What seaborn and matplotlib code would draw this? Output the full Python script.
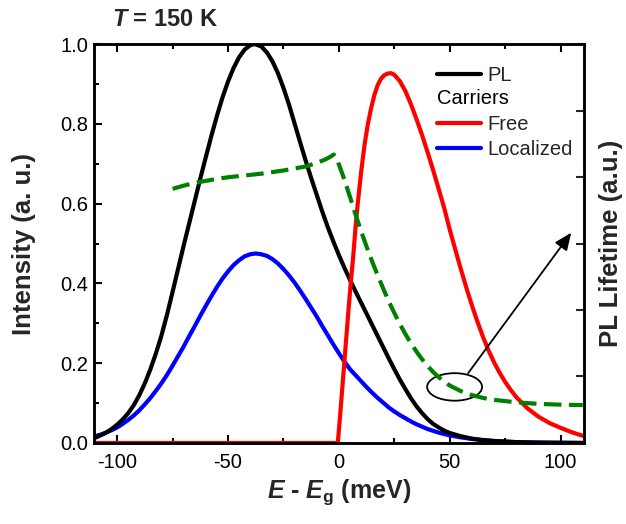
import numpy as np
import pandas as pd
import matplotlib
matplotlib.use("Agg")
import matplotlib.pyplot as plt
import seaborn as sns
from matplotlib.patches import Ellipse
from matplotlib.legend_handler import HandlerBase
from matplotlib.lines import Line2D
from matplotlib.text import Text

# ---------------- data ----------------
pl_x = [-110, -107.5, -105, -102.5, -100, -97.5, -95, -92.5, -90, -87.5, -85, -82.5,
        -80, -77.5, -75, -72.5, -70, -67.5, -65, -62.5, -60, -57.5, -55, -52.5, -50,
        -47.5, -45, -42.5, -40, -38, -35, -32.5, -30, -27.5, -25, -22.5, -20, -17.5,
        -15, -12.5, -10, -7.5, -5, -2.5, 0, 2.5, 5, 7.5, 10, 12.5, 15, 17.5, 20, 22.5,
        25, 27.5, 30, 32.5, 35, 37.5, 40, 42.5, 45, 47.5, 50, 55, 60, 65, 70, 80, 90,
        110]
pl_y = [0.013, 0.019, 0.026, 0.035, 0.046, 0.059, 0.075, 0.095, 0.12, 0.15, 0.185,
        0.225, 0.27, 0.322, 0.379, 0.437, 0.495, 0.551, 0.607, 0.663, 0.717, 0.77,
        0.82, 0.866, 0.906, 0.94, 0.967, 0.986, 0.997, 1.0, 0.994, 0.979, 0.957,
        0.927, 0.89, 0.848, 0.801, 0.754, 0.708, 0.664, 0.622, 0.58, 0.541, 0.505,
        0.471, 0.439, 0.409, 0.38, 0.352, 0.324, 0.296, 0.268, 0.24, 0.212, 0.185,
        0.159, 0.135, 0.112, 0.092, 0.075, 0.06, 0.048, 0.039, 0.031, 0.025, 0.017,
        0.011, 0.007, 0.005, 0.002, 0.001, 0.0]

loc_x = [-110, -107.5, -105, -102.5, -100, -97.5, -95, -92.5, -90, -87.5, -85, -82.5,
         -80, -77.5, -75, -72.5, -70, -67.5, -65, -62.5, -60, -57.5, -55, -52.5, -50,
         -47.5, -45, -42.5, -40, -37.5, -35, -32.5, -30, -27.5, -25, -22.5, -20, -17.5,
         -15, -12.5, -10, -7.5, -5, -2.5, 0, 2.5, 5, 7.5, 10, 12.5, 15, 17.5, 20, 22.5,
         25, 27.5, 30, 32.5, 35, 37.5, 40, 45, 50, 55, 60, 70, 80, 90, 100, 110]
loc_y = [0.017, 0.021, 0.026, 0.032, 0.039, 0.048, 0.058, 0.069, 0.082, 0.097, 0.113,
         0.131, 0.150, 0.171, 0.194, 0.218, 0.242, 0.268, 0.293, 0.319, 0.344, 0.368,
         0.391, 0.412, 0.430, 0.446, 0.458, 0.468, 0.473, 0.475, 0.473, 0.469, 0.461,
         0.450, 0.436, 0.420, 0.402, 0.382, 0.361, 0.339, 0.317, 0.293, 0.270, 0.247,
         0.225, 0.204, 0.185, 0.170, 0.155, 0.140, 0.126, 0.113, 0.101, 0.089, 0.079,
         0.070, 0.062, 0.054, 0.047, 0.041, 0.035, 0.026, 0.019, 0.014, 0.010, 0.005,
         0.0023, 0.001, 0.0005, 0.0002]

free_x = [-110, -0.5, 0.5, 1.5, 2.5, 3.5, 4.5, 5.5, 6.5, 7.5, 8.5, 10, 11.5, 13, 14.5,
          16, 17.5, 19, 20.5, 22, 23.5, 25, 27.5, 30, 32.5, 35, 37.5, 40, 42.5, 45,
          47.5, 50, 52.5, 55, 57.5, 60, 62.5, 65, 67.5, 70, 72.5, 75, 77.5, 80, 85, 90,
          95, 100, 105, 110]
free_y = [0.0, 0.0, 0.065, 0.135, 0.205, 0.275, 0.345, 0.41, 0.47, 0.54, 0.6, 0.677,
          0.745, 0.797, 0.838, 0.872, 0.897, 0.913, 0.922, 0.926, 0.927, 0.923, 0.907,
          0.882, 0.849, 0.812, 0.772, 0.729, 0.684, 0.637, 0.589, 0.535, 0.485, 0.436,
          0.389, 0.345, 0.304, 0.266, 0.232, 0.202, 0.176, 0.153, 0.133, 0.115, 0.087,
          0.066, 0.05, 0.038, 0.027, 0.018]

life_x = [-75, -70, -65, -60, -55, -50, -45, -40, -35, -30, -25, -20, -15, -10, -6, -4,
          -2.3, -1, 0, 1, 2.5, 5, 7.5, 10, 12.5, 15, 17.5, 20, 22.5, 25, 27.5, 30,
          32.5, 35, 37.5, 40, 42.5, 45, 47.5, 50, 55, 60, 65, 70, 80, 90, 100, 110]
life_y = [0.637, 0.645, 0.652, 0.657, 0.662, 0.666, 0.669, 0.672, 0.675, 0.679, 0.683,
          0.688, 0.693, 0.702, 0.711, 0.717, 0.723, 0.712, 0.698, 0.683, 0.66, 0.617,
          0.573, 0.531, 0.492, 0.455, 0.42, 0.387, 0.355, 0.326, 0.298, 0.273, 0.25,
          0.229, 0.21, 0.193, 0.178, 0.165, 0.154, 0.144, 0.13, 0.12, 0.113, 0.108,
          0.102, 0.098, 0.096, 0.095]

x_ticks = [-100, -50, 0, 50, 100]
y_ticks = [0.0, 0.2, 0.4, 0.6, 0.8, 1.0]

# ---------------- style ----------------
sns.set_style("ticks")
plt.rcParams.update({
    "font.family": ["Liberation Sans", "DejaVu Sans"],
    "axes.unicode_minus": False,
    "mathtext.fontset": "custom",
    "mathtext.it": "Liberation Sans:bold:italic",
    "mathtext.bf": "Liberation Sans:bold",
    "mathtext.rm": "Liberation Sans:bold",
    "mathtext.sf": "Liberation Sans:bold",
})

fig = plt.figure(figsize=(6.26, 5.24), dpi=100)
ax = fig.add_axes([0.150, 0.1546, 0.7827, 0.7614])

df_pl = pd.DataFrame({"E": pl_x, "I": pl_y})
df_loc = pd.DataFrame({"E": loc_x, "I": loc_y})
df_free = pd.DataFrame({"E": free_x, "I": free_y})
df_life = pd.DataFrame({"E": life_x, "T": life_y})

lw = 3.0
sns.lineplot(data=df_loc, x="E", y="I", ax=ax, color="#0000FF", lw=lw)
sns.lineplot(data=df_pl, x="E", y="I", ax=ax, color="black", lw=lw)
sns.lineplot(data=df_free, x="E", y="I", ax=ax, color="#FF0000", lw=lw)

ax.set_xlim(-110.5, 110.5)
ax.set_ylim(0, 1.0)
ax.set_xticks(x_ticks)
ax.set_xticks([-75, -25, 25, 75], minor=True)
ax.set_yticks(y_ticks)
ax.set_yticks([0.1, 0.3, 0.5, 0.7, 0.9], minor=True)
ax.set_yticklabels([f"{v:.1f}" for v in y_ticks])
ax.tick_params(which="both", direction="in", top=True, right=False, width=1.5,
               labelsize=14.5, colors="black")
ax.tick_params(which="major", length=6)
ax.tick_params(which="minor", length=3.5)
ax.tick_params(axis="x", pad=7)
ax.tick_params(axis="y", pad=4)
for s in ax.spines.values():
    s.set_linewidth(1.8)
    s.set_color("black")

ax2 = ax.twinx()
sns.lineplot(data=df_life, x="E", y="T", ax=ax2, color="#008000", lw=3.0,
             linestyle=(0, (4.2, 1.8)))
ax2.set_ylim(0, 1.0)
ax2.set_yticks(np.linspace(0, 1, 7))
ax2.set_yticklabels([])
ax2.tick_params(direction="in", length=6, width=1.5, right=True)
for s in ax2.spines.values():
    s.set_linewidth(1.8)
    s.set_color("black")

ax.set_xlabel(r"$\mathit{E}$ - $\mathit{E}_{\mathrm{g}}$ (meV)", fontsize=18,
              fontweight="bold")
ax.xaxis.set_label_coords(0.5, -0.085)
ax.set_ylabel("Intensity (a. u.)", fontsize=18.5, fontweight="bold")
ax.yaxis.set_label_coords(-0.118, 0.5)
ax2.set_ylabel("PL Lifetime (a.u.)", fontsize=18.5, fontweight="bold", rotation=90)
ax2.yaxis.set_label_coords(1.03, 0.5)
ax2.yaxis.label.set_verticalalignment("top")

ax.text(0.037, 1.045, r"$\mathit{T}$ = 150 K", transform=ax.transAxes, fontsize=17,
        fontweight="bold", ha="left", va="baseline")

# ellipse + arrow
ax.add_patch(Ellipse((52.2, 0.1405), width=24.8, height=0.069, fill=False,
                     lw=1.3, color="black", zorder=5))
ax.annotate("", xy=(104.8, 0.527), xytext=(58.3, 0.175),
            arrowprops=dict(arrowstyle="-|>,head_length=0.7,head_width=0.3",
                            color="black", lw=1.3, mutation_scale=15,
                            shrinkA=0, shrinkB=0), zorder=5)


# legend with a text-only entry
class TextEntry:
    def __init__(self, text):
        self.text = text


class TextEntryHandler(HandlerBase):
    def create_artists(self, legend, orig_handle, xdescent, ydescent, width, height,
                       fontsize, trans):
        t = Text(-xdescent, height / 2 - ydescent, orig_handle.text, fontsize=fontsize,
                 ha="left", va="center", transform=trans, color="black")
        return [t]


handles = [Line2D([], [], color="black", lw=lw), TextEntry("Carriers"),
           Line2D([], [], color="#FF0000", lw=lw), Line2D([], [], color="#0000FF", lw=lw)]
labels = ["PL", "", "Free", "Localized"]
leg = ax2.legend(handles, labels, handler_map={TextEntry: TextEntryHandler()},
                 loc="upper right", bbox_to_anchor=(0.978, 0.9455), frameon=False,
                 fontsize=14.5, handlelength=2.2, handletextpad=0.33, labelspacing=0.29,
                 borderpad=0, borderaxespad=0)

fig.savefig("out.png", dpi=100)
